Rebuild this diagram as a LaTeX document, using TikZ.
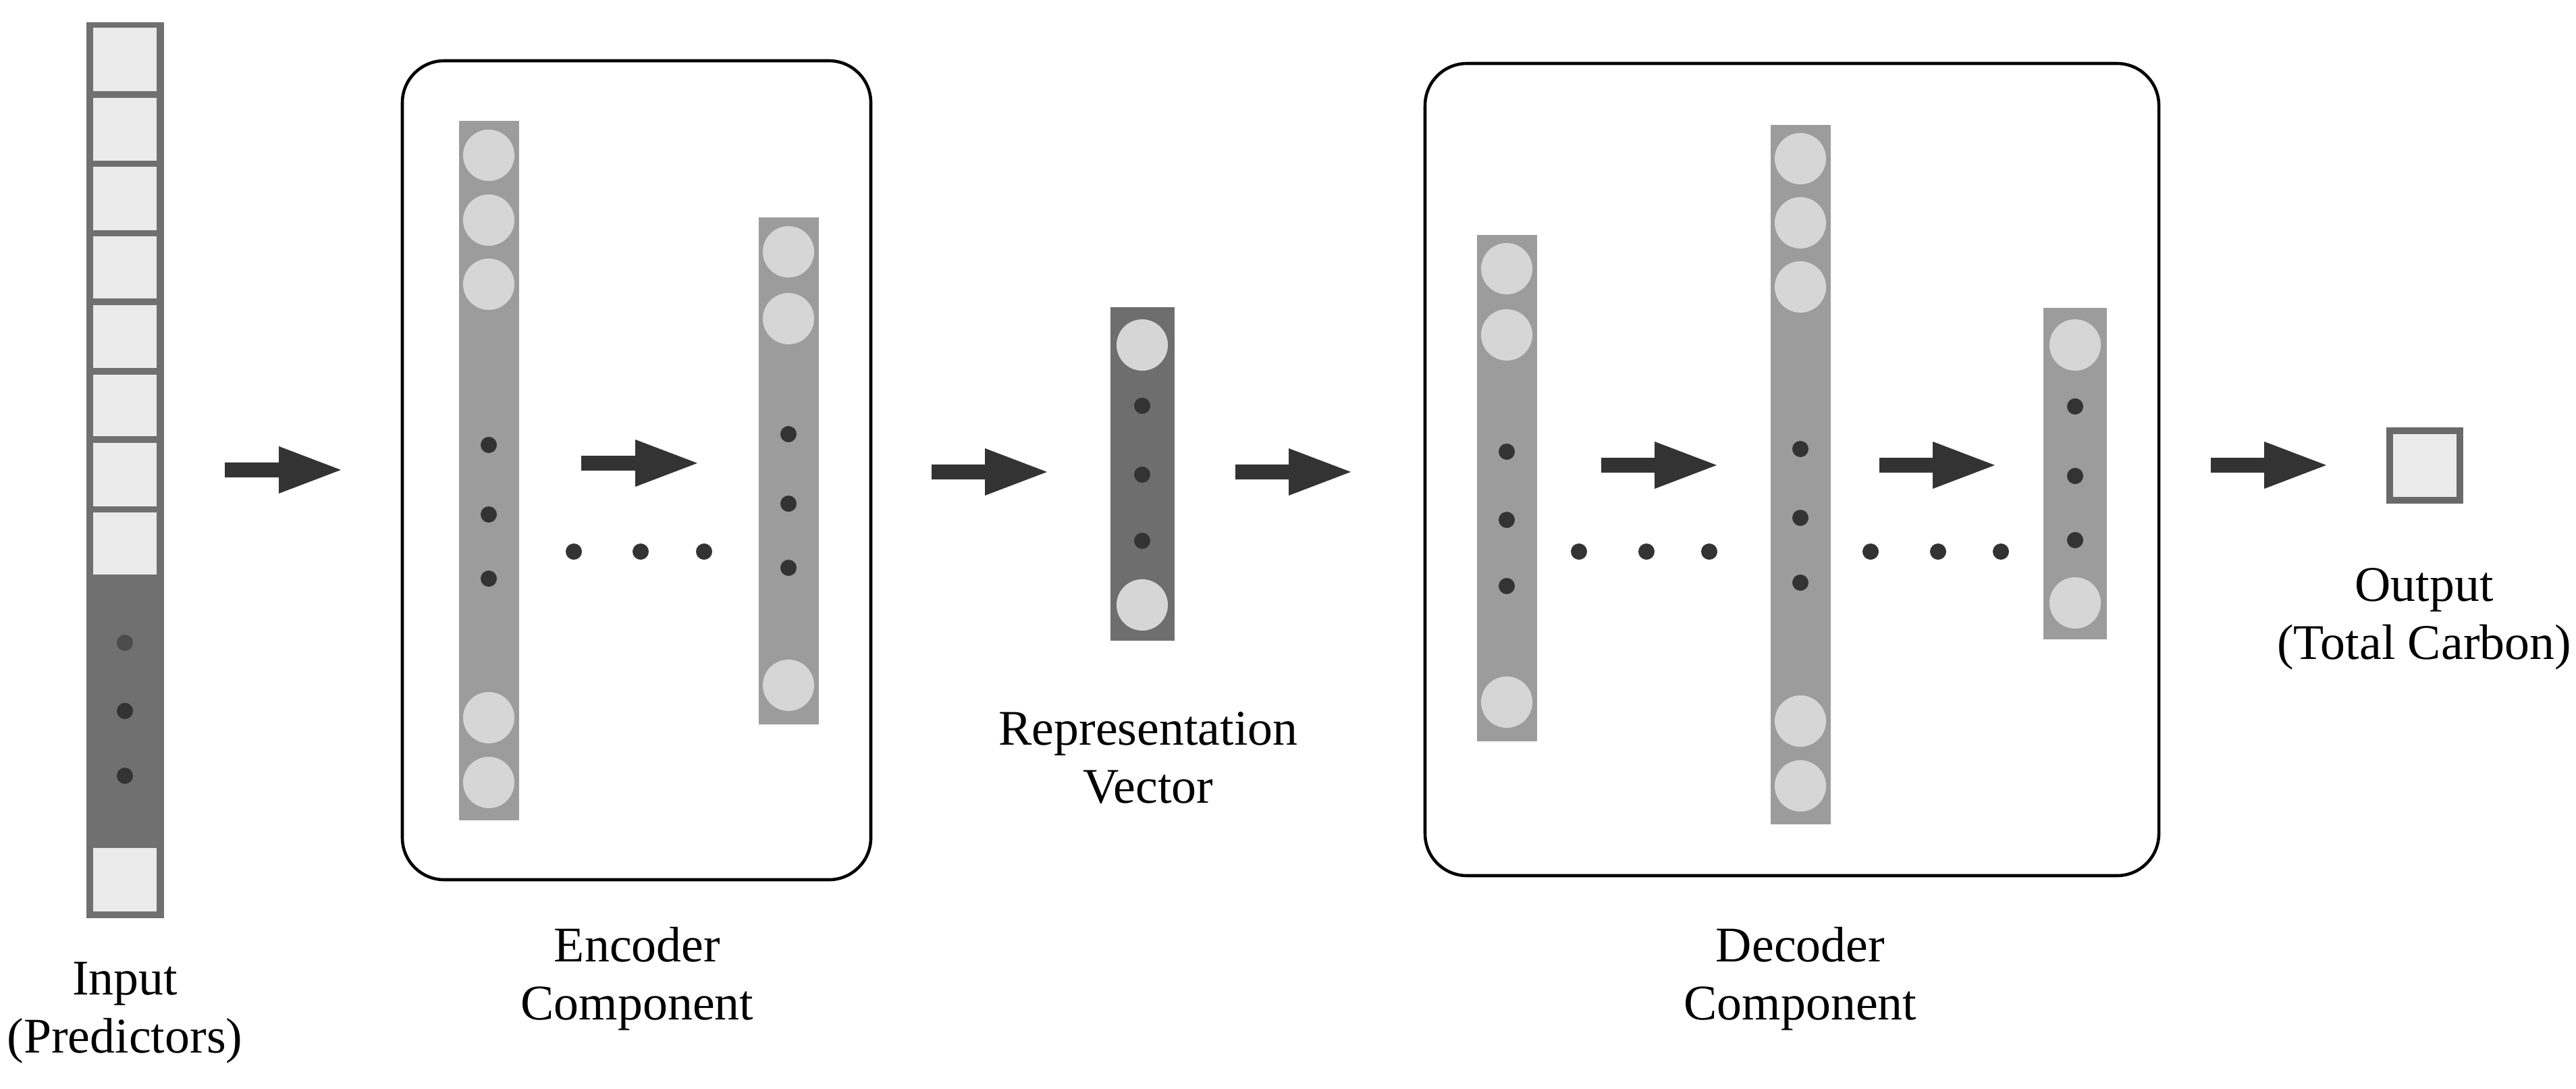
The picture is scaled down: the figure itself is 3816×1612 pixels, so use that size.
\documentclass[tikz,border=0pt]{standalone}
\usepackage{fontspec}
\setmainfont{Liberation Serif}
\definecolor{cell}{HTML}{EBEBEB}
\definecolor{frame}{HTML}{707070}
\definecolor{col}{HTML}{9C9C9C}
\definecolor{rep}{HTML}{6E6E6E}
\definecolor{neu}{HTML}{D6D6D6}
\definecolor{dk}{HTML}{333333}
\begin{document}
\begin{tikzpicture}[x=0.01cm,y=-0.01cm,
  neuron/.style={circle,fill=neu,minimum size=0.76cm,inner sep=0pt},
  dot/.style={circle,fill=dk,minimum size=0.24cm,inner sep=0pt},
  lab/.style={align=center,font=\fontsize{21}{24.5}\selectfont},
  box/.style={draw=black,line width=1.3pt,rounded corners=0.62cm},
  arr/.pic={\fill[dk] (0,-11) -- (80,-11) -- (80,-35) -- (172,0) -- (80,35) -- (80,11) -- (0,11) -- cycle;},
  arrs/.pic={\fill[dk] (0,-11) -- (79,-11) -- (79,-35) -- (171,0) -- (79,35) -- (79,11) -- (0,11) -- cycle;}]
\useasboundingbox (0,0) rectangle (3816,1612);
% input
\fill[frame] (128,33) rectangle (243,1360);
\foreach \a/\b in {41/135,145/238,247/341,350/442,452/545,555/646,656/750,759/851,1256/1350}
  \fill[cell] (138,\a) rectangle (232,\b);
\node[dot,fill=black!70] (i1) at (185,952) {};
\node[dot] (i2) at (185,1053) {};
\node[dot] (i3) at (185,1149) {};
\node[lab] (inlab) at (185,1500) {Input\\(Predictors)};
\pic at (333,696) {arr};
% encoder
\draw[box] (596,90) rectangle (1290,1303);
\fill[col] (680,179) rectangle (769,1215);
\foreach \y [count=\k] in {230,326,421,1063,1159} \node[neuron] (e1n\k) at (724,\y) {};
\foreach \y [count=\k] in {659,762,857} \node[dot] (e1d\k) at (724,\y) {};
\fill[col] (1124,322) rectangle (1213,1073);
\foreach \y [count=\k] in {373,472,1015} \node[neuron] (e2n\k) at (1168,\y) {};
\foreach \y [count=\k] in {643,746,841} \node[dot] (e2d\k) at (1168,\y) {};
\pic at (861,686) {arr};
\foreach \x [count=\k] in {850,949,1043} \node[dot] (erow\k) at (\x,817) {};
\node[lab] (enclab) at (944,1450) {Encoder\\Component};
% representation
\pic at (1380,699) {arrs};
\fill[rep] (1645,455) rectangle (1740,949);
\node[neuron] (r1) at (1692,511) {};
\node[neuron] (r2) at (1692,896) {};
\foreach \y [count=\k] in {601,703,801} \node[dot] (rd\k) at (1692,\y) {};
\node[lab] (replab) at (1701,1123) {Representation\\Vector};
\pic at (1830,699) {arrs};
% decoder
\draw[box] (2111,94) rectangle (3198,1297);
\fill[col] (2188,348) rectangle (2277,1098);
\foreach \y [count=\k] in {398,496,1040} \node[neuron] (d1n\k) at (2232,\y) {};
\foreach \y [count=\k] in {669,770,868} \node[dot] (d1d\k) at (2232,\y) {};
\fill[col] (2623,185) rectangle (2712,1221);
\foreach \y [count=\k] in {235,330,425,1068,1164} \node[neuron] (d2n\k) at (2667,\y) {};
\foreach \y [count=\k] in {665,767,863} \node[dot] (d2d\k) at (2667,\y) {};
\fill[col] (3027,456) rectangle (3121,947);
\foreach \y [count=\k] in {511,893} \node[neuron] (d3n\k) at (3074,\y) {};
\foreach \y [count=\k] in {602,705,800} \node[dot] (d3d\k) at (3074,\y) {};
\pic at (2372,689) {arrs};
\pic at (2784,689) {arrs};
\foreach \x [count=\k] in {2339,2439,2532} \node[dot] (drow\k) at (\x,817) {};
\foreach \x [count=\k] in {2771,2871,2964} \node[dot] (drowb\k) at (\x,817) {};
\node[lab] (declab) at (2667,1450) {Decoder\\Component};
% output
\pic at (3275,689) {arrs};
\fill[frame!95!black] (3535,633) rectangle (3649,746);
\fill[cell] (3545,643) rectangle (3639,736);
\node[lab] (outlab) at (3591,917) {Output\\(Total Carbon)};
\end{tikzpicture}
\end{document}
